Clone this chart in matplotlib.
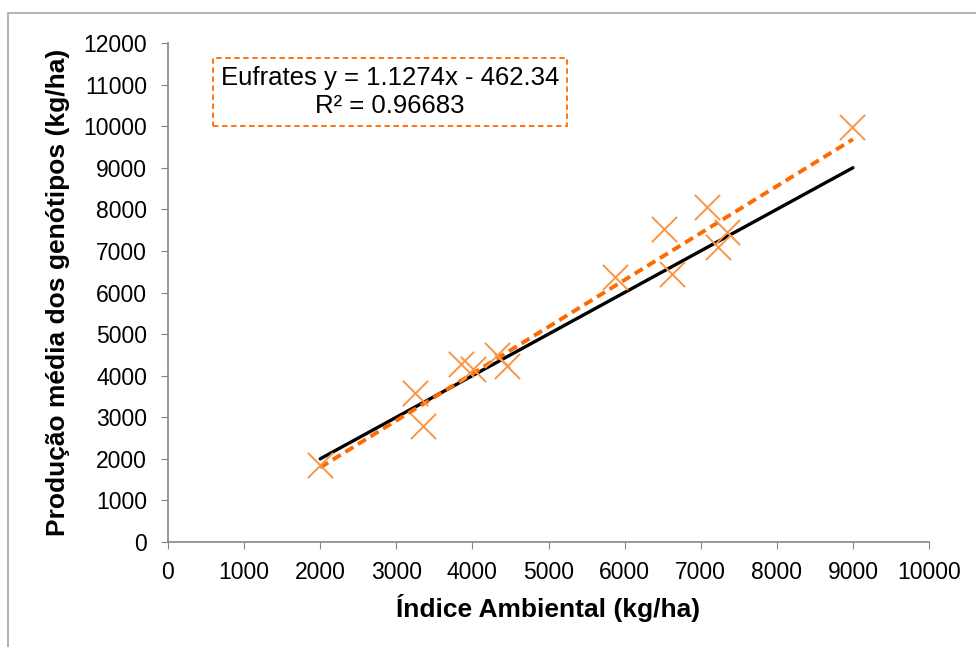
import numpy as np
import matplotlib.pyplot as plt
from matplotlib.patches import Rectangle

plt.rcParams['font.family'] = ['Liberation Sans', 'DejaVu Sans']

# indice ambiental x producao media (Eufrates)
indice = [2000, 3240, 3355, 3846, 4004, 4319, 4450, 5874, 6522, 6619, 7078, 7221, 7340, 8992]
producao = [1850, 3575, 2800, 4270, 4160, 4495, 4240, 6380, 7530, 6445, 8060, 7100, 7455, 9990]

# linha 1:1 e ajuste linear
ref_x = [2000, 9000]
coef_a = 1.1274
coef_b = -462.34
r2 = 0.96683

fig = plt.figure(figsize=(9.76, 6.47), dpi=100)
fig.patches.append(Rectangle((8 / 976, -0.05), 1.05, 1 - 13 / 647 + 0.05,
                             transform=fig.transFigure, fill=False,
                             edgecolor='#a6a6a6', lw=1.2))
ax = fig.add_axes([168 / 976, 1 - 542 / 647, (929 - 168) / 976, (542 - 43) / 647])

ax.plot(ref_x, ref_x, color='black', lw=2.4, solid_capstyle='round', zorder=2)
fit_x = np.array(ref_x)
ax.plot(fit_x, coef_a * fit_x + coef_b, color='#ff6a00', lw=2.8, ls=(0, (2.4, 1.4)),
        zorder=3)
ax.scatter(indice, producao, marker='x', s=330, color='#f79646', linewidths=1.4,
           zorder=4)

ax.set_xlim(0, 10000)
ax.set_ylim(0, 12000)
ax.set_xticks(np.arange(0, 10001, 1000))
ax.set_yticks(np.arange(0, 12001, 1000))
for side in ['top', 'right']:
    ax.spines[side].set_visible(False)
for side in ['left', 'bottom']:
    ax.spines[side].set_color('#868686')
    ax.spines[side].set_linewidth(1.2)
ax.tick_params(direction='out', length=5, color='#868686', labelsize=16.5,
               labelcolor='black')
ax.tick_params(axis='x', pad=9)
ax.tick_params(axis='y', pad=10)

ax.set_xlabel('Índice Ambiental (kg/ha)', fontsize=19, fontweight='bold', labelpad=7)
ax.set_ylabel('Produção média dos genótipos (kg/ha)', fontsize=19, fontweight='bold',
              labelpad=10)

ax.text(390 / 976, 1 - 92 / 647,
        f'Eufrates y = {coef_a}x - {abs(coef_b)}\nR² = {r2}',
        transform=fig.transFigure, ha='center', va='center', fontsize=18.5,
        linespacing=1.2,
        bbox=dict(boxstyle='square,pad=0.32', facecolor='white', edgecolor='#ff6a00',
                  ls=(0, (3, 2)), lw=1.3))

fig.savefig('out.png', dpi=100, facecolor='white')
